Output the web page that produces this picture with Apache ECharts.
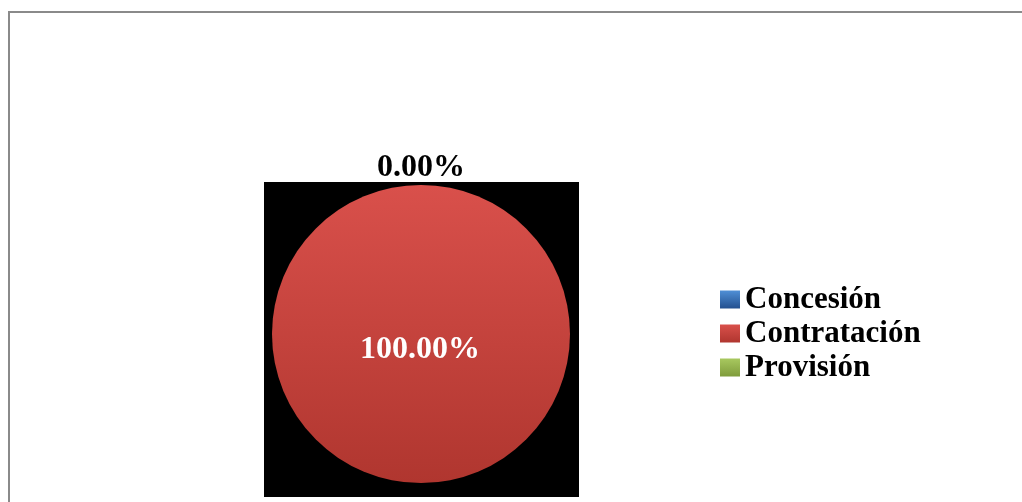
<!DOCTYPE html>
<html>
<head>
<meta charset="utf-8">
<style>
  html, body { margin: 0; padding: 0; background: #fff; }
  #chart { width: 1022px; height: 502px; }
</style>
<script src="https://cdn.jsdelivr.net/npm/echarts@6/dist/echarts.min.js"></script>
</head>
<body>
<div id="chart"></div>
<script>
// categorias y valores
const categories = ["Concesión", "Contratación", "Provisión"];
const values = [0, 100, 0];
const colorsTop = ["#4f8fd6", "#d9504b", "#a8c85f"];
const colorsBottom = ["#23508f", "#b0362f", "#7f9c3c"];

const chart = echarts.init(document.getElementById("chart"));

const grad = (i) => ({
  type: "linear", x: 0, y: 0, x2: 0, y2: 1,
  colorStops: [
    { offset: 0, color: colorsTop[i] },
    { offset: 1, color: colorsBottom[i] }
  ]
});

const option = {
  backgroundColor: "#fff",
  animation: false,
  graphic: [
    {
      type: "rect",
      shape: { x: 9, y: 12, width: 1030, height: 520 },
      style: { fill: "none", stroke: "#8a8a8a", lineWidth: 2 },
      z: -10
    },
    {
      type: "rect",
      shape: { x: 264, y: 182, width: 315, height: 315 },
      style: { fill: "#000" },
      z: -5
    }
  ],
  legend: {
    orient: "vertical",
    left: 720,
    top: 284,
    padding: 0,
    icon: "rect",
    itemWidth: 20,
    itemHeight: 18,
    itemGap: 3,
    textStyle: {
      fontFamily: "Liberation Serif",
      fontWeight: "bold",
      fontSize: 31,
      lineHeight: 31,
      color: "#000"
    },
    data: categories
  },
  series: [
    {
      type: "pie",
      center: [421, 334],
      radius: 149,
      startAngle: 90,
      clockwise: true,
      stillShowZeroSum: true,
      avoidLabelOverlap: false,
      labelLine: { show: false, length: 0, length2: 0 },
      label: {
        position: "outside",
        fontFamily: "Liberation Serif",
        fontWeight: "bold",
        fontSize: 32,
        color: "#000",
        offset: [49, -17],
        formatter: (p) => p.percent.toFixed(2) + "%"
      },
      data: categories.map((name, i) => {
        const item = {
          name: name,
          value: values[i],
          itemStyle: { color: grad(i) }
        };
        if (values[i] > 0) {
          item.label = {
            position: "center",
            color: "#fff",
            fontSize: 32,
            offset: [-1, 16]
          };
        } else if (i === 2) {
          item.label = { show: false };
        }
        return item;
      })
    }
  ]
};

chart.setOption(option);
</script>
</body>
</html>
